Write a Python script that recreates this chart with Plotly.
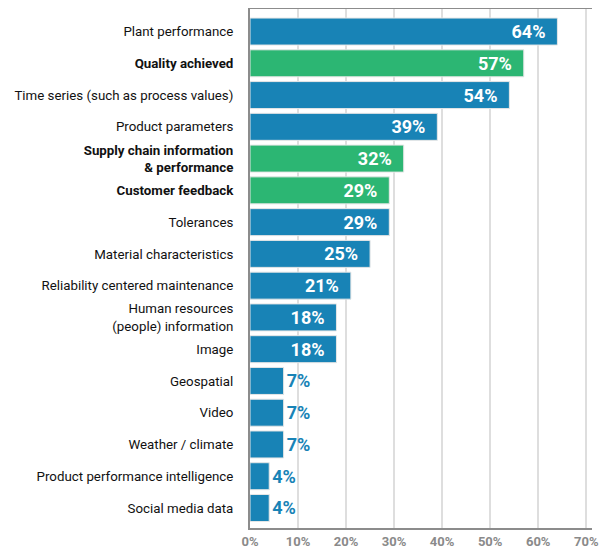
import plotly.graph_objects as go

categories = [
    "Plant performance",
    "<b>Quality achieved</b>",
    "Time series (such as process values)",
    "Product parameters",
    "<b>Supply chain information</b><br><b>& performance</b>",
    "<b>Customer feedback</b>",
    "Tolerances",
    "Material characteristics",
    "Reliability centered maintenance",
    "Human resources<br>(people) information",
    "Image",
    "Geospatial",
    "Video",
    "Weather / climate",
    "Product performance intelligence",
    "Social media data",
]
values = [64, 57, 54, 39, 32, 29, 29, 25, 21, 18, 18, 7, 7, 7, 4, 4]
highlight = [False, True, False, False, True, True, False, False, False, False, False, False, False, False, False, False]
x_ticks = [0, 10, 20, 30, 40, 50, 60, 70]

BLUE = "#1883b6"
GREEN = "#2cb673"
FONT = "Liberation Sans Narrow, Arial Narrow, Roboto, sans-serif"

colors = [GREEN if h else BLUE for h in highlight]
positions = ["inside" if v >= 15 else "outside" for v in values]
labels = [f"<b>{v}%</b>\u00a0\u00a0" if p == "inside" else f"<b>{v}%</b>" for v, p in zip(values, positions)]

fig = go.Figure(
    go.Bar(
        y=categories,
        x=values,
        orientation="h",
        marker=dict(color=colors, line=dict(color="#e6e6e6", width=1)),
        width=0.85,
        text=labels,
        textposition=positions,
        insidetextanchor="end",
        insidetextfont=dict(color="white", size=18, family=FONT),
        outsidetextfont=dict(color=BLUE, size=18, family=FONT),
        texttemplate="%{text}",
        constraintext="none",
        cliponaxis=False,
    )
)

# page body adds an 8px margin, so the figure is sized/offset to compensate
fig.update_layout(
    width=601,
    height=540,
    margin=dict(l=242, r=17, t=1, b=20, autoexpand=False),
    paper_bgcolor="white",
    plot_bgcolor="white",
    showlegend=False,
    font=dict(family=FONT, color="#111"),
    xaxis=dict(
        range=[0, 71.2],
        tickvals=x_ticks,
        ticktext=[f"<b>{t}%</b>" for t in x_ticks],
        tickfont=dict(size=13, color="#8a8a8a", family=FONT),
        showgrid=True,
        gridcolor="#dedede",
        gridwidth=2,
        zeroline=False,
        showline=True,
        linecolor="#8c8c8c",
        linewidth=2,
        mirror=True,
        ticks="",
        ticklabelstandoff=0,
        automargin=False,
    ),
    yaxis=dict(
        type="category",
        categoryorder="array",
        categoryarray=categories,
        range=[15.63, -0.71],
        tickfont=dict(size=13.3, color="#111", family=FONT),
        showgrid=False,
        zeroline=False,
        showline=True,
        linecolor="#8c8c8c",
        linewidth=2,
        ticks="",
        ticklabelstandoff=12,
        automargin=False,
    ),
)

fig.write_html("out.html")
